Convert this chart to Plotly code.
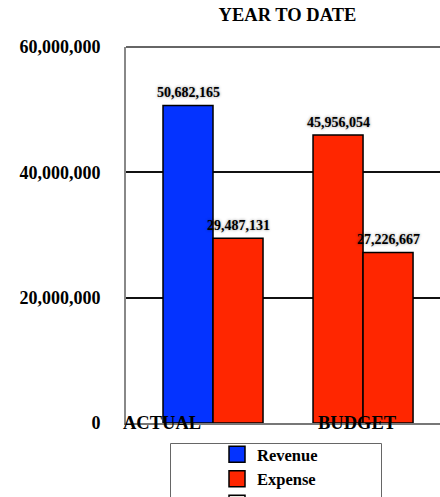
import plotly.graph_objects as go

# Year-to-date figures
categories = ["ACTUAL", "BUDGET"]
revenue = [50682165, 45956054]
expense = [29487131, 27226667]
legend_names = ["Revenue", "Expense", ""]

y_tick_values = [0, 20000000, 40000000, 60000000]
y_tick_labels = ["0", "20,000,000", "40,000,000", "60,000,000"]

BLUE = "#0433FF"
RED = "#FF2600"
PALE = "#ECEBE4"
SERIF = "Liberation Serif, Times New Roman, serif"

W, H = 440, 497
L, T, B = 126, 47, 74

label_font = dict(family=SERIF, size=14, color="black", weight="bold",
                  shadow="0px 0px 3px rgba(0,0,0,0.45)")

fig = go.Figure()

# Revenue series: the budget bar is drawn in red
fig.add_trace(go.Bar(
    x=categories, y=revenue, name=legend_names[0], showlegend=False,
    marker=dict(color=[BLUE, RED], line=dict(color="black", width=1.5)),
))
fig.add_trace(go.Bar(
    x=categories, y=expense, name=legend_names[1], showlegend=False,
    marker=dict(color=RED, line=dict(color="black", width=1.5)),
))

# Legend entries with larger square swatches
for name, col in zip(legend_names, [BLUE, RED, PALE]):
    fig.add_trace(go.Scatter(
        x=[None], y=[None], mode="markers", name=name, showlegend=True,
        marker=dict(symbol="square", size=16, color=col,
                    line=dict(color="black", width=1.5)),
    ))

plot_w = W - L
plot_h = H - T - B

def px_to_paper_x(px):
    return (px - L) / plot_w

def px_to_paper_y(py):
    return (H - B - py) / plot_h

annotations = []

# Value labels above each bar (bars sit at -1/6 and +1/6 of a category)
for offset, series in ((-1 / 6, revenue), (1 / 6, expense)):
    for i, v in enumerate(series):
        annotations.append(dict(
            x=i + offset, y=v, xref="x", yref="y", text=f"{v:,}",
            showarrow=False, xanchor="center", yanchor="middle",
            yshift=13, font=label_font))

# Category captions sit on the baseline, over the bars
cat_label_x = [-0.337, 0.963]
for xv, c in zip(cat_label_x, categories):
    annotations.append(dict(
        x=xv, y=0, xref="x", yref="y", text=c, showarrow=False,
        xanchor="center", yanchor="middle",
        font=dict(family=SERIF, size=18.5, color="black", weight="bold")))

fig.update_layout(
    width=W, height=H,
    margin=dict(l=L, r=0, t=T, b=B, pad=0, autoexpand=False),
    paper_bgcolor="white", plot_bgcolor="white",
    barmode="group", bargap=1/3, bargroupgap=0,
    title=dict(text="<b>YEAR TO DATE</b>", x=287.5 / W, xref="container",
               xanchor="center", y=1 - 15 / H, yref="container",
               yanchor="middle",
               font=dict(family=SERIF, size=18.5, color="black")),
    xaxis=dict(type="category", range=[-0.58, 1.513], showticklabels=False,
               ticks="", showgrid=False, zeroline=False,
               showline=True, linecolor="#777777", linewidth=1.5),
    yaxis=dict(range=[0, 60000000], tickvals=y_tick_values,
               ticktext=y_tick_labels, ticks="", ticklabelstandoff=20,
               tickfont=dict(family=SERIF, size=18, color="black",
                             weight="bold"),
               showgrid=True, gridcolor="#111111", gridwidth=1.5,
               zeroline=False, showline=True, linecolor="#888888",
               linewidth=2),
    showlegend=True,
    legend=dict(x=217 / W, xref="container", xanchor="left",
                y=1 - 437 / H, yref="container", yanchor="top",
                bgcolor="rgba(0,0,0,0)", borderwidth=0,
                tracegroupgap=0, itemclick=False,
                font=dict(family=SERIF, size=16.5, color="black",
                          weight="bold")),
    annotations=annotations,
    shapes=[
        # frame line along the top of the plotting area
        dict(type="line", xref="paper", yref="paper", x0=0, x1=1,
             y0=1, y1=1, line=dict(color="#333333", width=1.5),
             layer="above"),
        # legend frame
        dict(type="rect", xref="paper", yref="paper",
             x0=px_to_paper_x(170.5), x1=px_to_paper_x(381.5),
             y0=px_to_paper_y(443.5), y1=px_to_paper_y(520),
             line=dict(color="#666666", width=1),
             fillcolor="rgba(0,0,0,0)", layer="above"),
    ],
)

fig.write_html("out.html")
